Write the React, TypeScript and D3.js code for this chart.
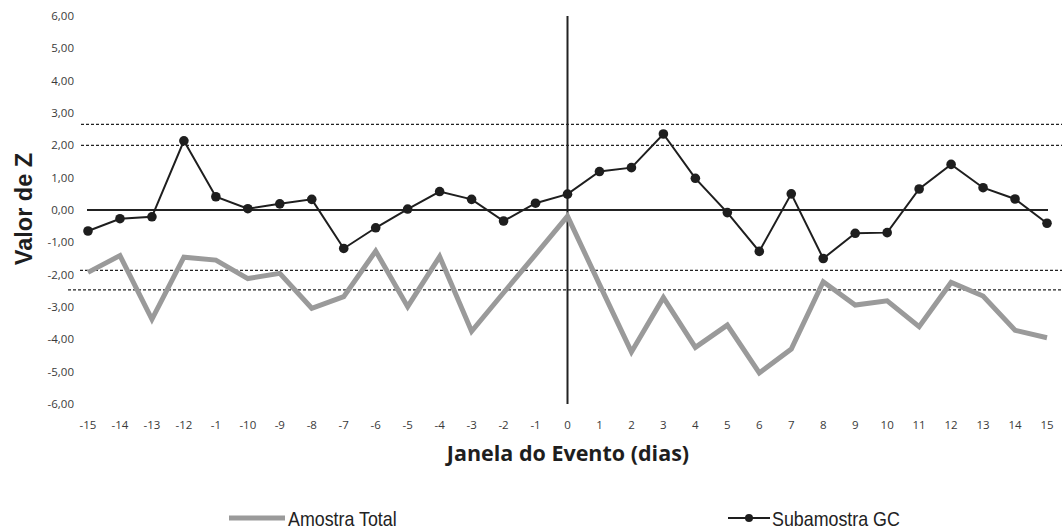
import React from "react";
import * as d3 from "d3";

const xLabels = ["-15","-14","-13","-12","-1","-10","-9","-8","-7","-6","-5","-4","-3","-2","-1","0","1","2","3","4","5","6","7","8","9","10","11","12","13","14","15"];
const amostraTotal = [-1.93,-1.41,-3.38,-1.46,-1.55,-2.12,-1.96,-3.04,-2.68,-1.27,-2.99,-1.44,-3.75,-2.56,-1.38,-0.19,-2.3,-4.39,-2.71,-4.25,-3.56,-5.04,-4.3,-2.22,-2.94,-2.81,-3.61,-2.24,-2.66,-3.72,-3.95];
const subamostraGC = [-0.65,-0.27,-0.21,2.14,0.41,0.04,0.19,0.33,-1.19,-0.55,0.03,0.57,0.33,-0.34,0.21,0.49,1.19,1.31,2.35,0.98,-0.08,-1.28,0.5,-1.5,-0.72,-0.7,0.65,1.41,0.69,0.34,-0.41];
const yTicks = [6,5,4,3,2,1,0,-1,-2,-3,-4,-5,-6];
const refLines = [
  { v: 2.65, x0: 81 },
  { v: 2.0, x0: 81 },
  { v: -1.87, x0: 80 },
  { v: -2.47, x0: 68 },
];

export default function App() {
  const W = 1062, H = 532;
  const idx = d3.range(xLabels.length);
  const x = d3.scaleLinear().domain([0, xLabels.length - 1]).range([88, 1047]);
  const y = d3.scaleLinear().domain([-6, 6]).range([404, 16]);
  const line = d3.line<number>().x((_, i) => x(i)).y((d) => y(d));
  const fmt = (v: number) => v.toFixed(2).replace(".", ",");
  const tickFont = "'Open Sans', 'DejaVu Sans', sans-serif";
  const legendFont = "'Liberation Sans', Arial, sans-serif";
  return (
    <svg width={W} height={H} style={{ position: "absolute", left: 0, top: 0, background: "#fff" }}>
      {/* y tick labels */}
      {yTicks.map((t) => (
        <text key={t} x={74} y={y(t) + 4} textAnchor="end" fontFamily={tickFont} fontSize={11.5} fill="#3a3a3a">
          {fmt(t)}
        </text>
      ))}
      {/* x tick labels */}
      {idx.map((i) => (
        <text key={i} x={x(i)} y={429} textAnchor="middle" fontFamily={tickFont} fontSize={11.5} fill="#3a3a3a">
          {xLabels[i]}
        </text>
      ))}
      {/* reference dashed lines */}
      {refLines.map((r, k) => (
        <line key={k} x1={r.x0} x2={W} y1={y(r.v)} y2={y(r.v)} stroke="#222" strokeWidth={1.3} strokeDasharray="3,2" />
      ))}
      {/* zero line */}
      <line x1={87} x2={1048} y1={y(0)} y2={y(0)} stroke="#222" strokeWidth={2} />
      {/* vertical event line */}
      <line x1={x(15)} x2={x(15)} y1={y(6)} y2={y(-6)} stroke="#222" strokeWidth={2} />
      {/* gray series */}
      <path d={line(amostraTotal) || ""} fill="none" stroke="#9a9a9a" strokeWidth={5} strokeLinejoin="miter" />
      {/* black series */}
      <path d={line(subamostraGC) || ""} fill="none" stroke="#1e1e1e" strokeWidth={2} />
      {subamostraGC.map((v, i) => (
        <circle key={i} cx={x(i)} cy={y(v)} r={4.8} fill="#1e1e1e" />
      ))}
      {/* axis titles */}
      <text transform="translate(32,209) rotate(-90)" textAnchor="middle" fontFamily="'Liberation Sans', Arial, sans-serif" fontWeight="bold" fontSize={23.5} fill="#1e1e1e">
        Valor de Z
      </text>
      <text x={568} y={461} textAnchor="middle" fontFamily="'Open Sans', Lato, sans-serif" fontWeight="bold" fontSize={21.5} fill="#1e1e1e">
        Janela do Evento (dias)
      </text>
      {/* legend */}
      <line x1={229} x2={285} y1={518} y2={518} stroke="#9a9a9a" strokeWidth={5} />
      <text transform="translate(288,526) scale(0.85,1)" fontFamily={legendFont} fontSize={21} fill="#222">Amostra Total</text>
      <line x1={728} x2={770} y1={518} y2={518} stroke="#1e1e1e" strokeWidth={2} />
      <circle cx={749} cy={518} r={4} fill="#1e1e1e" />
      <text transform="translate(772,526) scale(0.85,1)" fontFamily={legendFont} fontSize={21} fill="#222">Subamostra GC</text>
    </svg>
  );
}
